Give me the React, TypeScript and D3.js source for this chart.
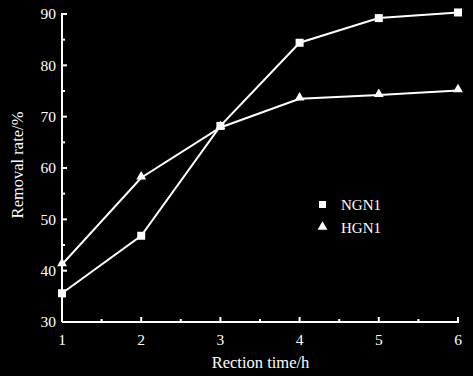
import React from "react";
import * as d3 from "d3";

const times = [1, 2, 3, 4, 5, 6];
const ngn1 = [35.6, 46.8, 68.2, 84.4, 89.2, 90.3];
const hgn1 = [41.2, 58.1, 67.9, 73.5, 74.2, 75.1];
const yTicks = [30, 40, 50, 60, 70, 80, 90];
const yMinor = [35, 45, 55, 65, 75, 85];
const xTicks = [1, 2, 3, 4, 5, 6];
const xMinor = [1.5, 2.5, 3.5, 4.5, 5.5];

const W = 473, H = 376;
const left = 62, right = 458, top = 14, bottom = 322;
const font = "'Liberation Serif', 'Times New Roman', serif";

export default function App() {
  const x = d3.scaleLinear().domain([1, 6]).range([left, right]);
  const y = d3.scaleLinear().domain([30, 90]).range([bottom, top]);
  const line = d3.line<number>().x((_, i) => x(times[i])).y((d) => y(d));
  const tri = d3.symbol().type(d3.symbolTriangle).size(42)();
  return (
    <svg width={W} height={H} style={{ position: "absolute", left: 0, top: 0, background: "#000" }}>
      <rect x={0} y={0} width={W} height={H} fill="#000" />
      <g stroke="#fff" strokeWidth={2} fill="none">
        <line x1={left} y1={bottom} x2={right + 1} y2={bottom} />
        <line x1={left} y1={top - 1} x2={left} y2={bottom} />
        {yTicks.map((t) => (
          <line key={"y" + t} x1={left} x2={left + 5} y1={y(t)} y2={y(t)} />
        ))}
        {yMinor.map((t) => (
          <line key={"ym" + t} x1={left} x2={left + 3} y1={y(t)} y2={y(t)} />
        ))}
        {xTicks.map((t) => (
          <line key={"x" + t} x1={x(t)} x2={x(t)} y1={bottom} y2={bottom - 5} />
        ))}
        {xMinor.map((t) => (
          <line key={"xm" + t} x1={x(t)} x2={x(t)} y1={bottom} y2={bottom - 3} />
        ))}
        <path d={line(ngn1) || ""} />
        <path d={line(hgn1) || ""} />
      </g>
      <g fill="#fff">
        {ngn1.map((v, i) => (
          <rect key={"s" + i} x={x(times[i]) - 4} y={y(v) - 4} width={8} height={8} />
        ))}
        {hgn1.map((v, i) => (
          <path key={"t" + i} d={tri || ""} transform={`translate(${x(times[i])},${y(v) - 1})`} />
        ))}
      </g>
      <g fill="#fff" fontFamily={font} fontSize={15.5}>
        {yTicks.map((t) => (
          <text key={"yl" + t} x={left - 6} y={y(t)} dy="0.35em" textAnchor="end">{t}</text>
        ))}
        {xTicks.map((t) => (
          <text key={"xl" + t} x={x(t)} y={bottom + 23} textAnchor="middle">{t}</text>
        ))}
      </g>
      <g fill="#fff" fontFamily={font} fontSize={16.5}>
        <text x={260.5} y={368} textAnchor="middle">Rection time/h</text>
        <text transform={`translate(23,165) rotate(-90)`} textAnchor="middle">Removal rate/%</text>
      </g>
      <g fill="#fff" fontFamily={font} fontSize={15}>
        <rect x={319} y={201} width={7} height={7} />
        <text x={341} y={210}>NGN1</text>
        <path d={tri || ""} transform={`translate(322.5,227)`} />
        <text x={341} y={233}>HGN1</text>
      </g>
    </svg>
  );
}
